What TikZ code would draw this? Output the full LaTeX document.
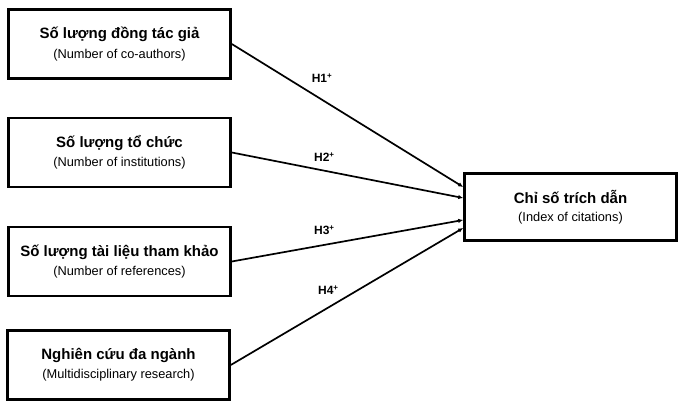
\documentclass[tikz,border=0pt]{standalone}
\usepackage{fontspec}
\setmainfont{Liberation Sans}
\usetikzlibrary{arrows.meta,positioning}

\newcommand{\twoline}[2]{{\fontsize{15}{17}\selectfont\bfseries #1}\\[6pt]{\fontsize{12.8}{14}\selectfont #2}}

\begin{document}
\begin{tikzpicture}[
  x=1pt, y=1pt,
  factor/.style={draw, line width=2.6pt, minimum width=222pt,
                 minimum height=69pt, align=center, inner sep=2pt},
  outcome/.style={factor, minimum width=212pt, minimum height=67pt},
  hyp/.style={-{Latex[length=5pt,width=4.5pt]}, line width=1.7pt},
  hlabel/.style={font=\bfseries\fontsize{12}{13}\selectfont, inner sep=1pt}
]
  \useasboundingbox (0,0) rectangle (680,404);

  \node[factor] (coauthors) at (119.5,360)
       {\twoline{Số lượng đồng tác giả}{(Number of co-authors)}};
  \node[factor] (institutions) at (119.5,251.5)
       {\twoline{Số lượng tổ chức}{(Number of institutions)}};
  \node[factor] (references) at (119.5,142.5)
       {\twoline{Số lượng tài liệu tham khảo}{(Number of references)}};
  \node[factor] (multidisc) at (118.5,39)
       {\twoline{Nghiên cứu đa ngành}{(Multidisciplinary research)}};
  \node[outcome] (citations) at (570.5,197)
       {\twoline{Chỉ số trích dẫn}{(Index of citations)}};

  \draw[hyp] (coauthors.east) -- ([yshift=20pt]citations.west)
    node[hlabel, pos=0.39, above=15pt] {H1\textsuperscript{+}};
  \draw[hyp] (institutions.east) -- ([yshift=9pt]citations.west)
    node[hlabel, pos=0.4, above=7pt] {H2\textsuperscript{+}};
  \draw[hyp] (references.east) -- ([yshift=-13pt]citations.west)
    node[hlabel, pos=0.4, above=8pt] {H3\textsuperscript{+}};
  \draw[hyp] (multidisc.east) -- ([yshift=-21pt]citations.west)
    node[hlabel, pos=0.42, above=11pt] {H4\textsuperscript{+}};
\end{tikzpicture}
\end{document}
